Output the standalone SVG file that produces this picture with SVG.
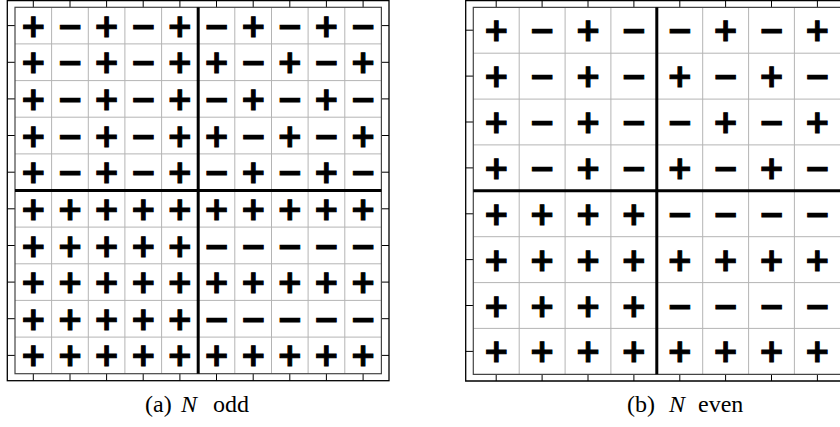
<svg xmlns="http://www.w3.org/2000/svg" width="840" height="427" viewBox="0 0 840 427">
<style>
.bg{fill:#ffffff}
.grid{stroke:#b4b4b4;stroke-width:1;fill:none}
.border{stroke:#444;stroke-width:1.2;fill:none}
.frame{stroke:#000;stroke-width:1.3;fill:none}
.tick{stroke:#000;stroke-width:1}
.thick{stroke:#000;stroke-width:3}
.s{font-family:"DejaVu Sans",sans-serif;font-weight:bold;font-size:31.2px;text-anchor:middle;dominant-baseline:central;fill:#000;stroke:#000;stroke-width:1.1;stroke-linejoin:miter}
.cap{font-family:"Liberation Serif",serif;font-size:24px;fill:#000}
.it{font-style:italic}
</style>
<rect class="bg" x="0" y="0" width="840" height="427"/>
<g id="panel-a">
  <rect class="frame" x="7.3" y="0.6" width="381.7" height="380.1"/>
  <path class="tick" d="M33.3 0.6V7.3M70 0.6V7.3M106.6 0.6V7.3M143.2 0.6V7.3M179.9 0.6V7.3M216.5 0.6V7.3M253.2 0.6V7.3M289.8 0.6V7.3M326.4 0.6V7.3M363.1 0.6V7.3
  M33.3 373.7V380.7M70 373.7V380.7M106.6 373.7V380.7M143.2 373.7V380.7M179.9 373.7V380.7M216.5 373.7V380.7M253.2 373.7V380.7M289.8 373.7V380.7M326.4 373.7V380.7M363.1 373.7V380.7
  M7.3 25.6H15M7.3 62.3H15M7.3 98.9H15M7.3 135.5H15M7.3 172.2H15M7.3 208.8H15M7.3 245.5H15M7.3 282.1H15M7.3 318.7H15M7.3 355.4H15
  M381.4 25.6H389M381.4 62.3H389M381.4 98.9H389M381.4 135.5H389M381.4 172.2H389M381.4 208.8H389M381.4 245.5H389M381.4 282.1H389M381.4 318.7H389M381.4 355.4H389"/>
  <path class="grid" d="M51.6 7.3V373.7M88.3 7.3V373.7M124.9 7.3V373.7M161.6 7.3V373.7M234.8 7.3V373.7M271.5 7.3V373.7M308.1 7.3V373.7M344.8 7.3V373.7
  M15 43.9H381.4M15 80.6H381.4M15 117.2H381.4M15 153.9H381.4M15 227.1H381.4M15 263.8H381.4M15 300.4H381.4M15 337.1H381.4"/>
  <rect class="border" x="15" y="7.3" width="366.4" height="366.4"/>
  <path class="thick" d="M198.2 7.3V373.7M15 190.5H381.4"/>
  <g id="signs-a">
    <text class="s" x="33.3 70 106.6 143.2 179.9 216.5 253.2 289.8 326.4 363.1" y="25.6">+−+−+−+−+−</text>
    <text class="s" x="33.3 70 106.6 143.2 179.9 216.5 253.2 289.8 326.4 363.1" y="62.3">+−+−++−+−+</text>
    <text class="s" x="33.3 70 106.6 143.2 179.9 216.5 253.2 289.8 326.4 363.1" y="98.9">+−+−+−+−+−</text>
    <text class="s" x="33.3 70 106.6 143.2 179.9 216.5 253.2 289.8 326.4 363.1" y="135.5">+−+−++−+−+</text>
    <text class="s" x="33.3 70 106.6 143.2 179.9 216.5 253.2 289.8 326.4 363.1" y="172.2">+−+−+−+−+−</text>
    <text class="s" x="33.3 70 106.6 143.2 179.9 216.5 253.2 289.8 326.4 363.1" y="208.8">++++++++++</text>
    <text class="s" x="33.3 70 106.6 143.2 179.9 216.5 253.2 289.8 326.4 363.1" y="245.5">+++++−−−−−</text>
    <text class="s" x="33.3 70 106.6 143.2 179.9 216.5 253.2 289.8 326.4 363.1" y="282.1">++++++++++</text>
    <text class="s" x="33.3 70 106.6 143.2 179.9 216.5 253.2 289.8 326.4 363.1" y="318.7">+++++−−−−−</text>
    <text class="s" x="33.3 70 106.6 143.2 179.9 216.5 253.2 289.8 326.4 363.1" y="355.4">++++++++++</text>
  </g>
  <text id="caption-a" class="cap" y="411.5"><tspan x="145">(a)</tspan><tspan class="it" x="181">N</tspan><tspan x="213">odd</tspan></text>
</g>
<g id="panel-b">
  <path class="frame" d="M848 0.6H465.7V381H848"/>
  <path class="tick" d="M496.2 0.6V7.3M542.1 0.6V7.3M588 0.6V7.3M633.9 0.6V7.3M679.8 0.6V7.3M725.6 0.6V7.3M771.5 0.6V7.3M817.4 0.6V7.3
  M496.2 374.3V381M542.1 374.3V381M588 374.3V381M633.9 374.3V381M679.8 374.3V381M725.6 374.3V381M771.5 374.3V381M817.4 374.3V381
  M465.7 30.2H473.3M465.7 76.1H473.3M465.7 122H473.3M465.7 167.9H473.3M465.7 213.8H473.3M465.7 259.6H473.3M465.7 305.5H473.3M465.7 351.4H473.3"/>
  <path class="grid" d="M519.2 7.3V374.3M565.1 7.3V374.3M610.9 7.3V374.3M702.7 7.3V374.3M748.6 7.3V374.3M794.4 7.3V374.3
  M473.3 53.2H841M473.3 99.1H841M473.3 144.9H841M473.3 236.7H841M473.3 282.6H841M473.3 328.4H841"/>
  <path class="border" d="M841 7.3H473.3V374.3H841"/>
  <path class="thick" d="M656.8 7.3V374.3M473.3 190.8H841"/>
  <g id="signs-b">
    <text class="s" x="496.2 542.1 588 633.9 679.8 725.6 771.5 817.4" y="30.2">+−+−−+−+</text>
    <text class="s" x="496.2 542.1 588 633.9 679.8 725.6 771.5 817.4" y="76.1">+−+−+−+−</text>
    <text class="s" x="496.2 542.1 588 633.9 679.8 725.6 771.5 817.4" y="122">+−+−−+−+</text>
    <text class="s" x="496.2 542.1 588 633.9 679.8 725.6 771.5 817.4" y="167.9">+−+−+−+−</text>
    <text class="s" x="496.2 542.1 588 633.9 679.8 725.6 771.5 817.4" y="213.8">++++−−−−</text>
    <text class="s" x="496.2 542.1 588 633.9 679.8 725.6 771.5 817.4" y="259.6">++++++++</text>
    <text class="s" x="496.2 542.1 588 633.9 679.8 725.6 771.5 817.4" y="305.5">++++−−−−</text>
    <text class="s" x="496.2 542.1 588 633.9 679.8 725.6 771.5 817.4" y="351.4">++++++++</text>
  </g>
  <text id="caption-b" class="cap" y="411.5"><tspan x="627">(b)</tspan><tspan class="it" x="669">N</tspan><tspan x="698">even</tspan></text>
</g>
</svg>
